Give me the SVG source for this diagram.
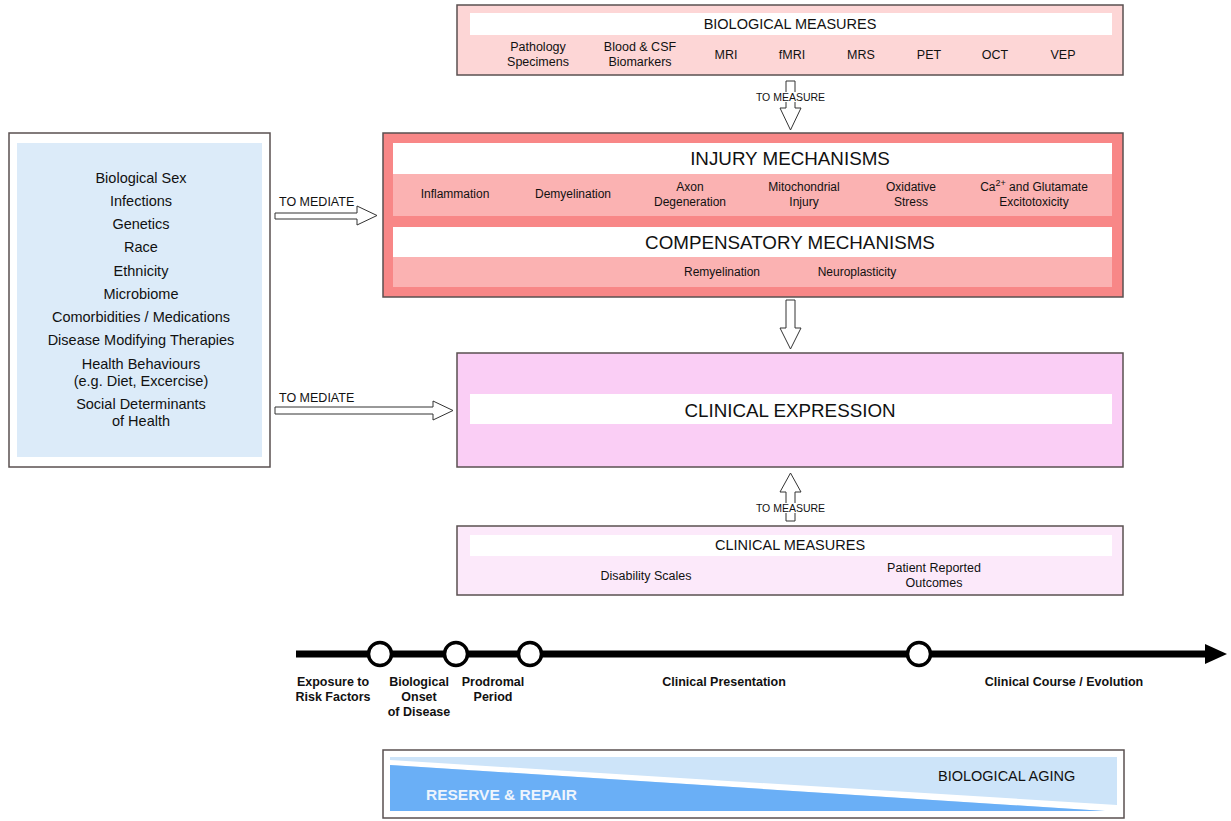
<svg xmlns="http://www.w3.org/2000/svg" width="1231" height="821" viewBox="0 0 1231 821">
<style>
text{font-family:"Liberation Sans",Arial,sans-serif;fill:#111;text-anchor:middle}
.box{stroke:#5a5050;stroke-width:1.5}
.bar{fill:#fff}
.t12{font-size:12px}
.t125{font-size:12.5px}
.t14{font-size:14.5px}
.t19{font-size:18.8px}
.lbl{font-size:12.5px;text-anchor:start}
.meas{font-size:10.5px}
.tl{font-size:12.5px;font-weight:bold}
.arr{fill:#fff;stroke:#333;stroke-width:1}
</style>
<rect width="1231" height="821" fill="#fff"/>

<g id="biological-measures">
<rect class="box" x="457" y="5" width="666" height="70" fill="#fdd6d6"/>
<rect class="bar" x="470" y="13" width="642" height="22"/>
<text class="t14" x="790" y="29">BIOLOGICAL MEASURES</text>
<text class="t125" x="538" y="51">Pathology</text>
<text class="t125" x="538" y="66">Specimens</text>
<text class="t125" x="640" y="51">Blood &amp; CSF</text>
<text class="t125" x="640" y="66">Biomarkers</text>
<text class="t125" x="726" y="59">MRI</text>
<text class="t125" x="792" y="59">fMRI</text>
<text class="t125" x="861" y="59">MRS</text>
<text class="t125" x="929" y="59">PET</text>
<text class="t125" x="995" y="59">OCT</text>
<text class="t125" x="1063" y="59">VEP</text>
</g>

<g id="mechanisms">
<rect class="box" x="383" y="133" width="740" height="164" fill="#f88787"/>
<rect class="bar" x="393" y="143" width="719" height="31"/>
<rect x="393" y="174" width="719" height="42" fill="#fbb2b2"/>
<rect class="bar" x="393" y="227" width="719" height="30"/>
<rect x="393" y="257" width="719" height="30" fill="#fbb2b2"/>
<text class="t19" x="790" y="165">INJURY MECHANISMS</text>
<text class="t12" x="455" y="198">Inflammation</text>
<text class="t12" x="573" y="198">Demyelination</text>
<text class="t12" x="690" y="191">Axon</text>
<text class="t12" x="690" y="206">Degeneration</text>
<text class="t12" x="804" y="191">Mitochondrial</text>
<text class="t12" x="804" y="206">Injury</text>
<text class="t12" x="911" y="191">Oxidative</text>
<text class="t12" x="911" y="206">Stress</text>
<text class="t12" x="1034" y="191">Ca<tspan font-size="9" dy="-5">2+</tspan><tspan dy="5"> and Glutamate</tspan></text>
<text class="t12" x="1034" y="206">Excitotoxicity</text>
<text class="t19" x="790" y="249">COMPENSATORY MECHANISMS</text>
<text class="t12" x="722" y="276">Remyelination</text>
<text class="t12" x="857" y="276">Neuroplasticity</text>
</g>

<g id="modifiers">
<rect class="box" x="9" y="133" width="261" height="334" fill="#fff"/>
<rect x="17" y="143" width="245" height="314" fill="#dcebf9"/>
<text class="t14" x="141" y="183">Biological Sex</text>
<text class="t14" x="141" y="206">Infections</text>
<text class="t14" x="141" y="229">Genetics</text>
<text class="t14" x="141" y="252">Race</text>
<text class="t14" x="141" y="276">Ethnicity</text>
<text class="t14" x="141" y="299">Microbiome</text>
<text class="t14" x="141" y="322">Comorbidities / Medications</text>
<text class="t14" x="141" y="345">Disease Modifying Therapies</text>
<text class="t14" x="141" y="369">Health Behaviours</text>
<text class="t14" x="141" y="386">(e.g. Diet, Excercise)</text>
<text class="t14" x="141" y="409">Social Determinants</text>
<text class="t14" x="141" y="426">of Health</text>
</g>

<g id="clinical-expression">
<rect class="box" x="457" y="353" width="666" height="114" fill="#facef5"/>
<rect class="bar" x="470" y="394" width="642" height="30"/>
<text class="t19" x="790" y="417">CLINICAL EXPRESSION</text>
</g>

<g id="clinical-measures">
<rect class="box" x="457" y="526" width="666" height="69" fill="#fce9fa"/>
<rect class="bar" x="470" y="535" width="642" height="21"/>
<text class="t14" x="790" y="550">CLINICAL MEASURES</text>
<text class="t125" x="646" y="580">Disability Scales</text>
<text class="t125" x="934" y="572">Patient Reported</text>
<text class="t125" x="934" y="587">Outcomes</text>
</g>

<g id="connectors">
<polygon class="arr" points="786,81 795,81 795,108 801,108 790.5,130 780,108 786,108"/>
<rect x="756" y="92" width="70" height="10" fill="#fff"/>
<text class="meas" x="790.5" y="101">TO MEASURE</text>

<polygon class="arr" points="786,300 795,300 795,328 801,328 790.5,349 780,328 786,328"/>

<polygon class="arr" points="790.5,473 801,492 795,492 795,521 786,521 786,492 780,492"/>
<rect x="756" y="503" width="70" height="10" fill="#fff"/>
<text class="meas" x="790.5" y="512">TO MEASURE</text>

<polygon class="arr" points="275,213 357,213 357,206 377,215.5 357,225 357,219 275,219"/>
<text class="lbl" x="279" y="206">TO MEDIATE</text>
<polygon class="arr" points="275,407 433,407 433,401 453,410.5 433,420 433,414 275,414"/>
<text class="lbl" x="279" y="402">TO MEDIATE</text>
</g>

<g id="timeline">
<line x1="296" y1="654" x2="1208" y2="654" stroke="#000" stroke-width="7"/>
<polygon points="1205,644 1227,654 1205,664" fill="#000"/>
<circle cx="380" cy="654" r="11.5" fill="#fff" stroke="#000" stroke-width="3.5"/>
<circle cx="456" cy="654" r="11.5" fill="#fff" stroke="#000" stroke-width="3.5"/>
<circle cx="530" cy="654" r="11.5" fill="#fff" stroke="#000" stroke-width="3.5"/>
<circle cx="919" cy="654" r="11.5" fill="#fff" stroke="#000" stroke-width="3.5"/>
<text class="tl" x="333" y="686">Exposure to</text>
<text class="tl" x="333" y="701">Risk Factors</text>
<text class="tl" x="419" y="686">Biological</text>
<text class="tl" x="419" y="701">Onset</text>
<text class="tl" x="419" y="716">of Disease</text>
<text class="tl" x="493" y="686">Prodromal</text>
<text class="tl" x="493" y="701">Period</text>
<text class="tl" x="724" y="686">Clinical Presentation</text>
<text class="tl" x="1064" y="686">Clinical Course / Evolution</text>
</g>

<g id="aging">
<rect class="box" x="383" y="750" width="741" height="68" fill="#fff"/>
<rect x="390" y="757" width="727" height="54" fill="#cde4f9"/>
<polygon points="390,760 1117,805 1117,811 1105,811 390,765" fill="#fff"/>
<polygon points="390,765 1105,811 390,811" fill="#6aaff6"/>
<text x="426" y="800" style="font-size:15.5px;font-weight:bold;fill:#eef5fd;text-anchor:start">RESERVE &amp; REPAIR</text>
<text x="938" y="781" style="font-size:14.5px;text-anchor:start">BIOLOGICAL AGING</text>
</g>
</svg>
